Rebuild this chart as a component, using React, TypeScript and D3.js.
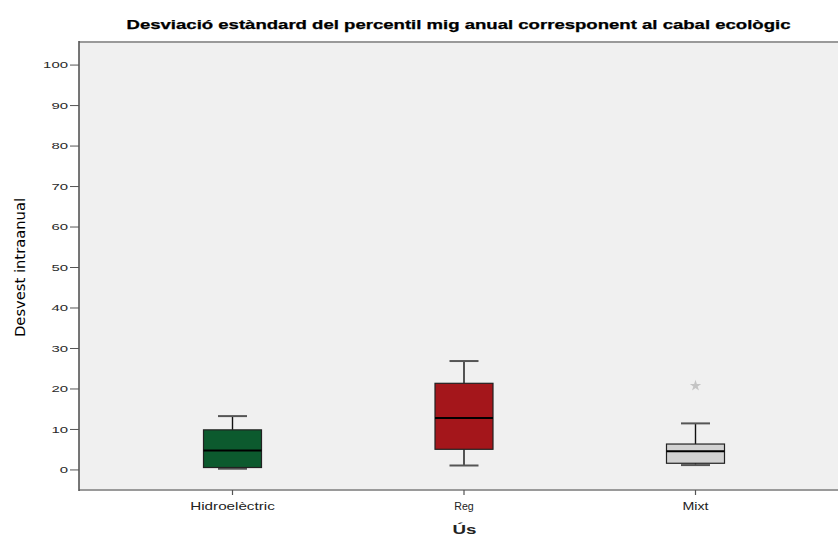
import React from "react";
import * as d3 from "d3";

// Box plot summary per usage category
const categories = ["Hidroelèctric", "Reg", "Mixt"];
const whiskerLow = [0.3, 1.1, 1.2];
const q1 = [0.6, 5.1, 1.65];
const median = [4.8, 12.8, 4.6];
const q3 = [9.9, 21.4, 6.4];
const whiskerHigh = [13.3, 26.9, 11.5];
const extremes = [[], [], [20.8]];
const boxColors = ["#0c5a2e", "#a4161b", "#d2d2d2"];
const yTicks = [0, 10, 20, 30, 40, 50, 60, 70, 80, 90, 100];

const title = "Desviació estàndard del percentil mig anual corresponent al cabal ecològic";
const yTitle = "Desvest intraanual";
const xTitle = "Ús";

const W = 838;
const H = 536;
const plot = { left: 79, top: 42, right: 860, bottom: 491 };

export default function App() {
  const y = d3.scaleLinear().domain([-5.2, 105.7]).range([plot.bottom, plot.top]);
  const x = d3.scalePoint<string>().domain(categories).range([232.5, 695.5]);
  const boxW = 58;
  const capW = 29;
  const star = d3.symbol().type(d3.symbolStar).size(40)();

  return (
    <svg
      width={W}
      height={H}
      style={{ position: "absolute", left: 0, top: 0, background: "#fff" }}
      fontFamily="'Liberation Sans', Arial, sans-serif"
    >
      <text
        x={126.5}
        y={29}
        fontSize={12}
        fontWeight="bold"
        fill="#000"
        stroke="#000"
        strokeWidth={0.25}
        textLength={664}
        lengthAdjust="spacingAndGlyphs"
      >
        {title}
      </text>

      {/* plot frame */}
      <rect x={plot.left} y={plot.top} width={plot.right - plot.left} height={plot.bottom - plot.top} fill="#f0f0f0" />
      <line x1={plot.left} x2={W} y1={plot.top} y2={plot.top} stroke="#9a9a9a" strokeWidth={2} />
      <line x1={plot.left} x2={W} y1={plot.bottom - 1} y2={plot.bottom - 1} stroke="#9a9a9a" strokeWidth={2} />
      <line x1={plot.left} x2={plot.left} y1={plot.top - 1} y2={plot.bottom} stroke="#555" strokeWidth={1.6} />

      {/* y axis */}
      {yTicks.map((t) => (
        <g key={t}>
          <line x1={70} x2={plot.left} y1={y(t)} y2={y(t)} stroke="#555" strokeWidth={1} />
          <text
            x={68}
            y={y(t) + 3.3}
            fontSize={9}
            fill="#2a2a2a"
            textAnchor="end"
            textLength={String(t).length * 8.3}
            lengthAdjust="spacingAndGlyphs"
          >
            {t}
          </text>
        </g>
      ))}
      <text
        transform="translate(25,267.5) rotate(-90)"
        fontSize={14.5}
        fill="#000"
        textAnchor="middle"
        textLength={139}
        lengthAdjust="spacingAndGlyphs"
        fontFamily="'DejaVu Sans Condensed', 'Liberation Sans Narrow', 'Liberation Sans', sans-serif"
      >
        {yTitle}
      </text>

      {/* x axis */}
      {categories.map((c) => (
        <g key={c}>
          <line x1={x(c)} x2={x(c)} y1={plot.bottom - 1} y2={plot.bottom + 4} stroke="#555" strokeWidth={1.2} />
          <text
            x={x(c)}
            y={509.5}
            fontSize={10.5}
            fill="#222"
            textAnchor="middle"
            textLength={c.length * 6.5}
            lengthAdjust="spacingAndGlyphs"
          >
            {c}
          </text>
        </g>
      ))}
      <text x={464.5} y={534} fontSize={13} fontWeight="bold" fill="#222" textAnchor="middle" textLength={24} lengthAdjust="spacingAndGlyphs">
        {xTitle}
      </text>

      {/* boxes */}
      {categories.map((c, i) => {
        const cx = x(c) as number;
        return (
          <g key={c}>
            <line x1={cx} x2={cx} y1={y(whiskerHigh[i])} y2={y(q3[i])} stroke="#111" strokeWidth={1.4} />
            <line x1={cx} x2={cx} y1={y(q1[i])} y2={y(whiskerLow[i])} stroke="#111" strokeWidth={1.4} />
            <line x1={cx - capW / 2} x2={cx + capW / 2} y1={y(whiskerHigh[i])} y2={y(whiskerHigh[i])} stroke="#555" strokeWidth={2} />
            <line x1={cx - capW / 2} x2={cx + capW / 2} y1={y(whiskerLow[i])} y2={y(whiskerLow[i])} stroke="#555" strokeWidth={2} />
            <rect
              x={cx - boxW / 2}
              y={y(q3[i])}
              width={boxW}
              height={y(q1[i]) - y(q3[i])}
              fill={boxColors[i]}
              stroke="#222"
              strokeWidth={1.2}
            />
            <line x1={cx - boxW / 2} x2={cx + boxW / 2} y1={y(median[i])} y2={y(median[i])} stroke="#000" strokeWidth={2} />
            {extremes[i].map((v, k) => (
              <path key={k} d={star as string} transform={`translate(${cx},${y(v)})`} fill="#c4c4c4" />
            ))}
          </g>
        );
      })}
    </svg>
  );
}
